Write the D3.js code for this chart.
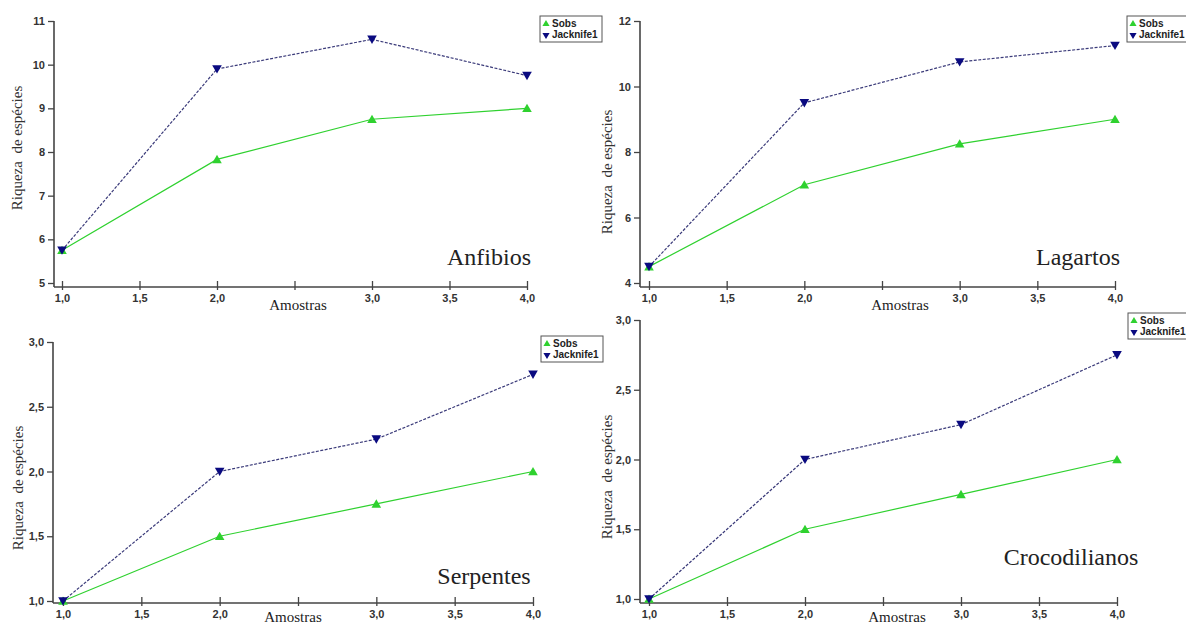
<!DOCTYPE html>
<html>
<head>
<meta charset="utf-8">
<script src="https://cdn.jsdelivr.net/npm/d3@7"></script>
<style>
  body { margin: 0; background: #fff; }
  svg { display: block; }
</style>
</head>
<body>
<div id="vizcontainer"></div>
<script>
const samples = [1, 2, 3, 4];
const xTicks = [1, 1.5, 2, 2.5, 3, 3.5, 4];
// the 2,5 label sits under "Amostras" in the original, so it is left blank
const xTickLabels = ['1,0', '1,5', '2,0', '', '3,0', '3,5', '4,0'];

const sobsAnfibios = [5.75, 7.83, 8.75, 9.0];
const jackAnfibios = [5.75, 9.9, 10.58, 9.75];
const yTicksAnfibios = [5, 6, 7, 8, 9, 10, 11];

const sobsLagartos = [4.5, 7.0, 8.25, 9.0];
const jackLagartos = [4.5, 9.5, 10.75, 11.25];
const yTicksLagartos = [4, 6, 8, 10, 12];

const sobsSerpentes = [1.0, 1.5, 1.75, 2.0];
const jackSerpentes = [1.0, 2.0, 2.25, 2.75];
const yTicksSerpentes = [1, 1.5, 2, 2.5, 3];

const sobsCroco = [1.0, 1.5, 1.75, 2.0];
const jackCroco = [1.0, 2.0, 2.25, 2.75];
const yTicksCroco = [1, 1.5, 2, 2.5, 3];

const legendLabels = ['Sobs', 'Jacknife1'];
const yLabel = 'Riqueza  de espécies';
const xLabel = 'Amostras';

const width = 1186, height = 626;
const green = '#2fd12f', navy = '#0a0a80', jackLine = '#3b3b7a', axisColor = '#444';

const svg = d3.select('#vizcontainer')
  .append('svg')
  .attr('width', width)
  .attr('height', height);

const comma = d => d3.format('.1f')(d).replace('.', ',');

// layout for each panel (pixel positions only)
const panels = [
  { title: 'Anfibios', sobs: sobsAnfibios, jack: jackAnfibios, yTicks: yTicksAnfibios, yFmt: d3.format('d'),
    xr: [62, 527], yr: [283, 21], axX: 54, axY: 287,
    yLab: [17, 148], xLab: [298, 310], tit: [489, 265], leg: [540, 16] },
  { title: 'Lagartos', sobs: sobsLagartos, jack: jackLagartos, yTicks: yTicksLagartos, yFmt: d3.format('d'),
    xr: [649, 1115], yr: [283, 21], axX: 640, axY: 287,
    yLab: [607, 172], xLab: [900, 310], tit: [1078, 265], leg: [1127, 16] },
  { title: 'Serpentes', sobs: sobsSerpentes, jack: jackSerpentes, yTicks: yTicksSerpentes, yFmt: comma,
    xr: [63, 533], yr: [601, 342], axX: 53, axY: 603,
    yLab: [18, 488], xLab: [293, 622], tit: [484, 584], leg: [541, 336] },
  { title: 'Crocodilianos', sobs: sobsCroco, jack: jackCroco, yTicks: yTicksCroco, yFmt: comma,
    xr: [649, 1117], yr: [599, 320], axX: 640, axY: 603,
    yLab: [607, 477], xLab: [897, 622], tit: [1071, 565], leg: [1128, 313] }
];

const triUp = d3.symbol().type(d3.symbolTriangle).size(40);
const triDown = d3.symbol().type(d3.symbolTriangle).size(40);

panels.forEach(p => {
  const g = svg.append('g');
  const x = d3.scaleLinear().domain([1, 4]).range(p.xr);
  const y = d3.scaleLinear().domain(d3.extent(p.yTicks)).range(p.yr);

  // y axis
  const ya = g.append('g')
    .attr('transform', `translate(${p.axX},0)`)
    .call(d3.axisLeft(y).tickValues(p.yTicks).tickFormat(p.yFmt).tickSize(6).tickPadding(3));
  ya.select('.domain').remove();
  g.append('line')
    .attr('x1', p.axX).attr('x2', p.axX)
    .attr('y1', y(p.yTicks[p.yTicks.length - 1])).attr('y2', p.axY)
    .attr('stroke', axisColor).attr('stroke-width', 1.6);

  // x axis
  const xa = g.append('g')
    .attr('transform', `translate(0,${p.axY})`)
    .call(d3.axisBottom(x).tickValues(xTicks).tickFormat((d, i) => xTickLabels[i]).tickSize(3).tickPadding(4));
  xa.select('.domain').remove();
  xa.selectAll('.tick line').attr('y1', -6);
  g.append('line')
    .attr('x1', p.axX).attr('x2', x(4))
    .attr('y1', p.axY).attr('y2', p.axY)
    .attr('stroke', axisColor).attr('stroke-width', 1.6);

  g.selectAll('.tick line').attr('stroke', axisColor).attr('stroke-width', 1.3);
  g.selectAll('.tick text')
    .attr('fill', '#333')
    .style('font-family', 'Liberation Sans, Arial, sans-serif')
    .style('font-size', '11px')
    .style('font-weight', 'bold');

  // labels
  g.append('text')
    .attr('transform', `translate(${p.yLab[0]},${p.yLab[1]}) rotate(-90)`)
    .attr('text-anchor', 'middle').attr('dominant-baseline', 'central')
    .style('font-family', 'Liberation Serif, Times New Roman, serif')
    .style('font-size', '15px').attr('fill', '#333')
    .style('white-space', 'pre')
    .text(yLabel);
  g.append('text')
    .attr('x', p.xLab[0]).attr('y', p.xLab[1])
    .attr('text-anchor', 'middle')
    .style('font-family', 'Liberation Serif, Times New Roman, serif')
    .style('font-size', '15px').attr('fill', '#222')
    .text(xLabel);
  g.append('text')
    .attr('x', p.tit[0]).attr('y', p.tit[1])
    .attr('text-anchor', 'middle')
    .style('font-family', 'Liberation Serif, Times New Roman, serif')
    .style('font-size', '24px').attr('fill', '#222')
    .text(p.title);

  // lines
  const line = d3.line().x((d, i) => x(samples[i])).y(d => y(d));
  g.append('path').datum(p.sobs)
    .attr('d', line).attr('fill', 'none')
    .attr('stroke', green).attr('stroke-width', 1.2);
  g.append('path').datum(p.jack)
    .attr('d', line).attr('fill', 'none')
    .attr('stroke', jackLine).attr('stroke-width', 1.2)
    .attr('stroke-dasharray', '3,1.5');

  // markers
  g.selectAll('.mSobs').data(p.sobs).join('path')
    .attr('class', 'mSobs')
    .attr('d', triUp)
    .attr('transform', (d, i) => `translate(${x(samples[i])},${y(d) + 1})`)
    .attr('fill', green);
  g.selectAll('.mJack').data(p.jack).join('path')
    .attr('class', 'mJack')
    .attr('d', triDown)
    .attr('transform', (d, i) => `translate(${x(samples[i])},${y(d) - 1}) rotate(180)`)
    .attr('fill', navy);

  // legend
  const lg = g.append('g').attr('transform', `translate(${p.leg[0]},${p.leg[1]})`);
  lg.append('rect')
    .attr('width', 62).attr('height', 26)
    .attr('fill', '#fff').attr('stroke', '#555').attr('stroke-width', 1);
  lg.append('path').attr('d', d3.symbol().type(d3.symbolTriangle).size(22))
    .attr('transform', 'translate(6,8)').attr('fill', green);
  lg.append('path').attr('d', d3.symbol().type(d3.symbolTriangle).size(22))
    .attr('transform', 'translate(6,19) rotate(180)').attr('fill', navy);
  lg.selectAll('text').data(legendLabels).join('text')
    .attr('x', 12).attr('y', (d, i) => 11 + i * 11)
    .style('font-family', 'Liberation Sans, Arial, sans-serif')
    .style('font-size', '10px').style('font-weight', 'bold')
    .attr('fill', '#222')
    .text(d => d);
});
</script>
</body>
</html>
